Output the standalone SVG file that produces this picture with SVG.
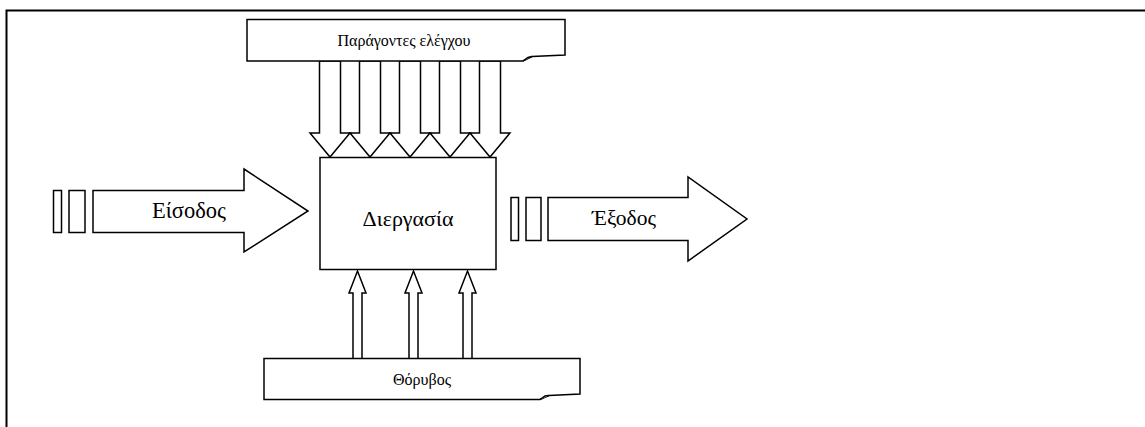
<svg xmlns="http://www.w3.org/2000/svg" width="1145" height="427" viewBox="0 0 1145 427">
<style>
.s{fill:#fff;stroke:#000;stroke-width:1.5;stroke-linejoin:miter}
.t{font-family:"Liberation Serif","Times New Roman","DejaVu Serif",serif;fill:#000;text-anchor:middle}
</style>
<rect x="0" y="0" width="1145" height="427" fill="#fff"/>
<path d="M6.5,427 V10.5 H1145" fill="none" stroke="#000" stroke-width="2"/>
<g id="connectors">
<path class="s" d="M319.5,61 H340.5 V133 H350 L330,157 L310,133 H319.5 Z"/>
<path class="s" d="M359.5,61 H380.5 V133 H390 L370,157 L350,133 H359.5 Z"/>
<path class="s" d="M399.5,61 H420.5 V133 H430 L410,157 L390,133 H399.5 Z"/>
<path class="s" d="M439.5,61 H460.5 V133 H470 L450,157 L430,133 H439.5 Z"/>
<path class="s" d="M479.5,61 H500.5 V133 H510 L490,157 L470,133 H479.5 Z"/>
<path class="s" d="M353,358 V293 H349 L357.5,271 L366,293 H362 V358"/>
<path class="s" d="M409,358 V293 H405 L413.5,271 L422,293 H418 V358"/>
<path class="s" d="M463,358 V293 H459 L467.5,271 L476,293 H472 V358"/>
</g>
<g id="controls">
<path class="s" d="M247,19.5 H565 V55 L532,56.5 L523,61 H247 Z"/>
<path class="s" d="M523,61 L528,57.5 L532,56.5"/>
<text class="t" x="404" y="46" font-size="16">Παράγοντες ελέγχου</text>
</g>
<g id="input">
<rect class="s" x="53.5" y="190.5" width="8" height="42"/>
<rect class="s" x="69" y="190.5" width="16" height="42"/>
<path class="s" d="M93,190.5 H244 V169 L308,211 L244,252 V232.5 H93 Z"/>
<text class="t" x="189" y="218" font-size="22.5">Είσοδος</text>
</g>
<g id="process">
<rect class="s" x="320" y="157.5" width="176" height="112"/>
<text class="t" x="408" y="226" font-size="22">Διεργασία</text>
</g>
<g id="output">
<rect class="s" x="511" y="197.5" width="7.5" height="43"/>
<rect class="s" x="526" y="197.5" width="15" height="43"/>
<path class="s" d="M548,197.5 H688 V177 L747,219 L688,261 V240.5 H548 Z"/>
<text class="t" x="624" y="225" font-size="21.5">Έξοδος</text>
</g>
<g id="noise">
<path class="s" d="M264,358.5 H580 V394 L549,395.5 L540,399.5 H264 Z"/>
<path class="s" d="M540,399.5 L545,396 L549,395.5"/>
<text class="t" x="422" y="385" font-size="16">Θόρυβος</text>
</g>
</svg>
